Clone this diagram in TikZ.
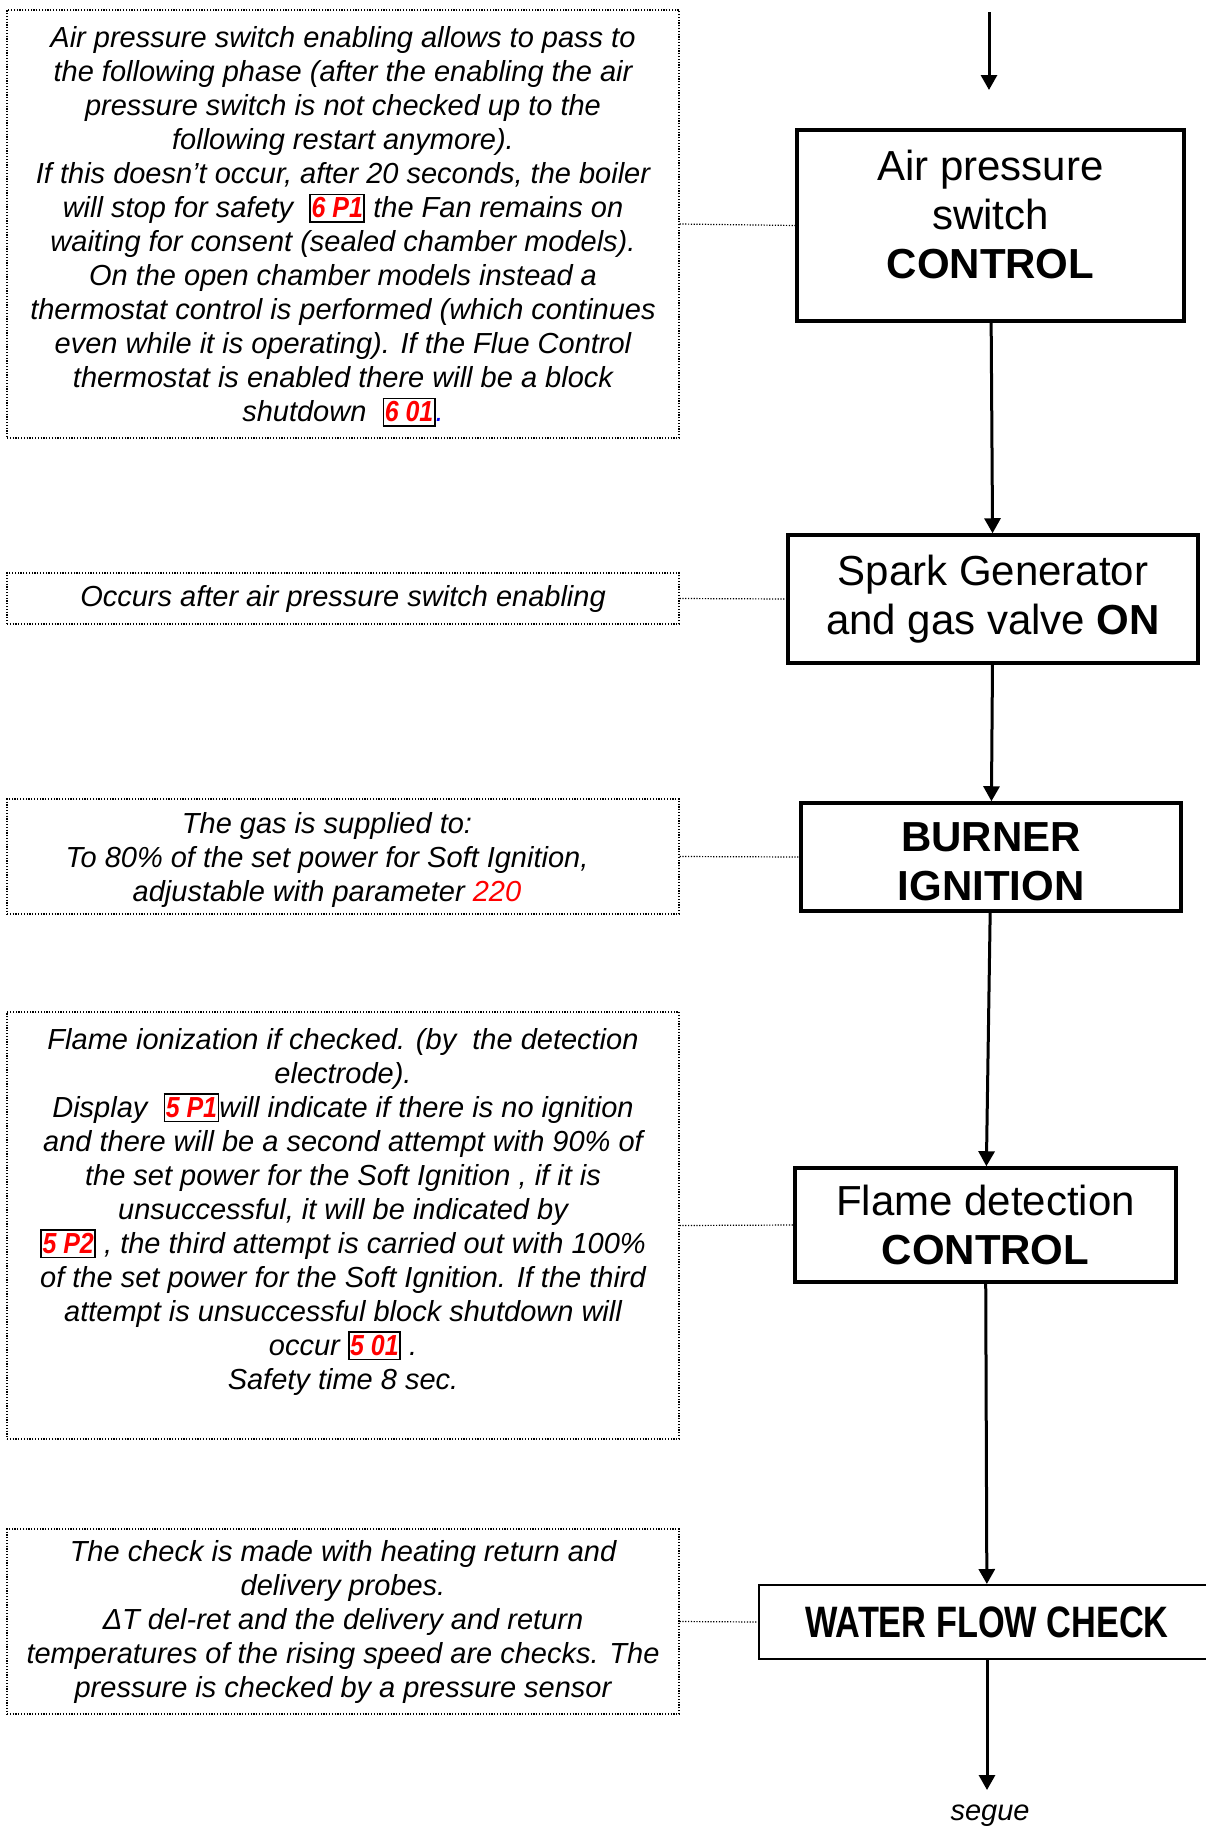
\documentclass[tikz,border=0pt]{standalone}
\usepackage{fontspec}
\setmainfont{Liberation Sans}
\usepackage{graphicx}
\usetikzlibrary{arrows.meta,positioning}

% framed red error codes inside the notes
\newcommand{\errcode}[1]{{\setlength{\fboxsep}{0.5pt}\setlength{\fboxrule}{1.8pt}\color{black}\fbox{\rule[-3pt]{0pt}{25pt}\textcolor{red}{\bfseries\itshape\scalebox{0.86}[1]{#1}}}}}

\tikzset{
	stepbox/.style={draw,line width=3.5pt,align=center,inner sep=0pt,font=\fontsize{42}{49}\selectfont},
	boxtext/.style={align=center,inner sep=0pt,font=\fontsize{42}{49}\selectfont},
	note/.style={draw,line width=1.2pt,dash pattern=on 1.2pt off 1.6pt,align=center,inner sep=0pt,minimum width=672,font=\fontsize{29}{34}\selectfont\itshape},
	notetext/.style={align=center,inner sep=0pt,font=\fontsize{29}{34}\selectfont\itshape},
	flow/.style={line width=3pt,-{Triangle[length=15pt,width=16pt]}},
	link/.style={line width=1.2pt,dash pattern=on 1.2pt off 1.6pt}
}

\begin{document}
\begin{tikzpicture}[x=1pt,y=-1pt]
		\useasboundingbox (0,0) rectangle (1206,1829);

		% phases
		\node[stepbox,minimum width=387,minimum height=191] (aps) at (990.5,225.5) {};
		\node[boxtext] (apstext) at ([yshift=11pt]aps.center) {Air pressure\\switch\\\textbf{CONTROL}};
		\node[stepbox,minimum width=410,minimum height=128] (spark) at (993,599) {Spark Generator\\and gas valve \textbf{ON}};
		\node[stepbox,minimum width=380,minimum height=108] (burner) at (991,857) {};
		\node[boxtext] (burnertext) at ([yshift=-5pt]burner.center) {\textbf{BURNER}\\\textbf{IGNITION}};
		\node[stepbox,minimum width=381,minimum height=114] (flame) at (985.5,1225) {Flame detection\\\textbf{CONTROL}};
		\node[stepbox,line width=2pt,minimum width=456,minimum height=74,font=\fontsize{44}{50}\selectfont\bfseries] (water) at (987,1622) {\scalebox{0.78}[1]{WATER FLOW CHECK}};

		\coordinate (in) at (989,12);
		\coordinate (inend) at (989,90);
		\coordinate (out) at (987,1790);
		\node[notetext] (segue) at (990,1816) {segue};

		% notes
		\node[note,minimum height=428] (note1) at (343,224) {};
		\node[notetext] (note1text) at ([yshift=-3pt]note1.center) {Air pressure switch enabling allows to pass to\\the following phase (after the enabling the air\\pressure switch is not checked up to the\\following restart anymore).\\If this doesn’t occur, after 20 seconds, the boiler\\will stop for safety \ \errcode{6 P1} the Fan remains on\\waiting for consent (sealed chamber models).\\On the open chamber models instead a\\thermostat control is performed (which continues\\even while it is operating). If the Flue Control\\thermostat is enabled there will be a block\\shutdown \ \errcode{6 01}{\color{blue}.}};
		\node[note,minimum height=51] (note2) at (343,598.5) {Occurs after air pressure switch enabling};
		\node[note,minimum height=115] (note3) at (343,856.5) {};
		\node[notetext] (note3text) at ([xshift=-16pt,yshift=-3pt]note3.center) {The gas is supplied to:\\To 80\% of the set power for Soft Ignition,\\adjustable with parameter {\color{red}220}};
		\node[note,minimum height=427] (note4) at (343,1225.5) {Flame ionization if checked. (by \ the detection\\electrode).\\Display \ \errcode{5 P1}will indicate if there is no ignition\\and there will be a second attempt with 90\% of\\the set power for the Soft Ignition , if it is\\unsuccessful, it will be indicated by\\\errcode{5 P2} , the third attempt is carried out with 100\%\\of the set power for the Soft Ignition. If the third\\attempt is unsuccessful block shutdown will\\occur \errcode{5 01} .\\Safety time 8 sec.\\\mbox{}};
		\node[note,minimum height=185] (note5) at (343,1621.5) {The check is made with heating return and\\delivery probes.\\ΔT del-ret and the delivery and return\\temperatures of the rising speed are checks. The\\pressure is checked by a pressure sensor};

		% arrows
		\draw[flow] (in) -- (inend);
		\draw[flow] (aps) -- (spark);
		\draw[flow] (spark) -- (burner);
		\draw[flow] (burner) -- (flame);
		\draw[flow] (flame) -- (water);
		\draw[flow] (water) -- (out);

		% dotted links
		\draw[link] (note1.east) -- (aps.west);
		\draw[link] (note2.east) -- (spark.west);
		\draw[link] (note3.east) -- (burner.west);
		\draw[link] (note4.east) -- (flame.west);
		\draw[link] (note5.east) -- (water.west);
	\end{tikzpicture}
\end{document}
